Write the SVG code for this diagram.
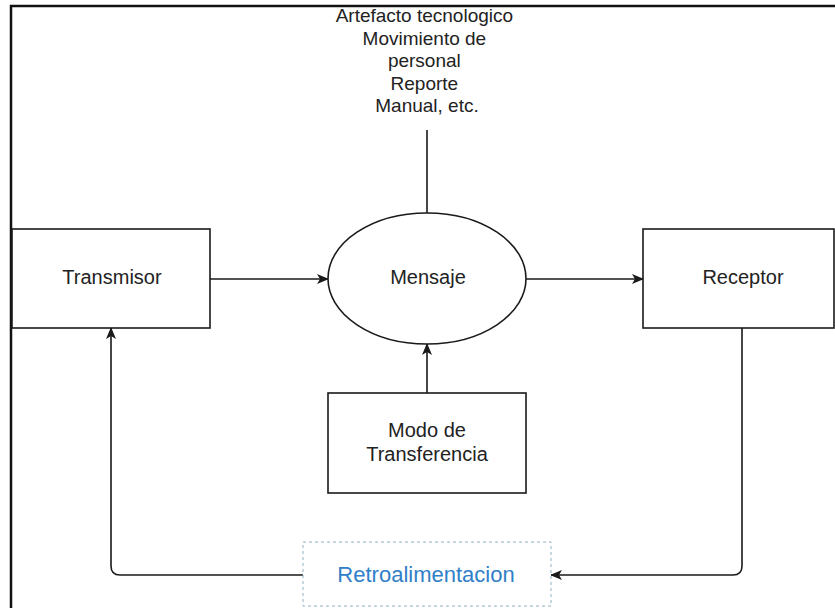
<svg xmlns="http://www.w3.org/2000/svg" width="835" height="608" viewBox="0 0 835 608">
  <style>
    .box { fill: #ffffff; stroke: #1a1a1a; stroke-width: 1.6; }
    .lbl { font-family: "Liberation Sans", Arial, sans-serif; font-size: 20px; fill: #222222; text-anchor: middle; }
    .edge { fill: none; stroke: #1a1a1a; stroke-width: 1.6; }
    .frame { fill: none; stroke: #111111; stroke-width: 2.5; }
  </style>
  <defs>
    <marker id="arrow" viewBox="0 0 12 10" refX="11" refY="5" markerWidth="12" markerHeight="10" markerUnits="userSpaceOnUse" orient="auto">
      <path d="M0,0 L12,5 L0,10 L3,5 Z" fill="#1a1a1a"/>
    </marker>
  </defs>

  <rect width="835" height="608" fill="#ffffff"/>
  <!-- outer frame (top and left edges) -->
  <path class="frame" d="M11,608 V6 H835"/>

  <!-- connectors -->
  <g id="connectors">
    <path class="edge" d="M210,279 H328" marker-end="url(#arrow)"/>
    <path class="edge" d="M526,279 H643" marker-end="url(#arrow)"/>
    <path class="edge" d="M427,130 V213"/>
    <path class="edge" d="M427,393 V344" marker-end="url(#arrow)"/>
    <path class="edge" d="M742,328 V566 Q742,575 733,575 H551" marker-end="url(#arrow)"/>
    <path class="edge" d="M303,575 H120 Q111,575 111,566 V328" marker-end="url(#arrow)"/>
  </g>

  <!-- nodes -->
  <g id="medios">
    <text class="lbl" x="427" font-size="19" style="font-size:19px">
      <tspan x="427" y="22">Artefacto tecnologico</tspan>
      <tspan x="427" y="45">Movimiento de</tspan>
      <tspan x="427" y="67">personal</tspan>
      <tspan x="427" y="90">Reporte</tspan>
      <tspan x="427" y="112">Manual, etc.</tspan>
    </text>
  </g>

  <g id="transmisor">
    <rect class="box" x="12" y="229" width="198" height="99"/>
    <text class="lbl" x="112" y="284">Transmisor</text>
  </g>

  <g id="mensaje">
    <ellipse class="box" cx="427" cy="278.5" rx="99" ry="65.5"/>
    <text class="lbl" x="428" y="284">Mensaje</text>
  </g>

  <g id="receptor">
    <rect class="box" x="643" y="229" width="191" height="99"/>
    <text class="lbl" x="743" y="284">Receptor</text>
  </g>

  <g id="modo">
    <rect class="box" x="328" y="393" width="198" height="100"/>
    <text class="lbl" x="427" y="437">Modo de</text>
    <text class="lbl" x="427" y="461">Transferencia</text>
  </g>

  <g id="retroalimentacion">
    <rect x="303" y="542" width="248" height="64" fill="#ffffff" stroke="#8fb0bf" stroke-width="1" stroke-dasharray="3,3"/>
    <text class="lbl" x="426" y="582" style="font-size:22px; fill:#2f80c8">Retroalimentacion</text>
  </g>
</svg>
